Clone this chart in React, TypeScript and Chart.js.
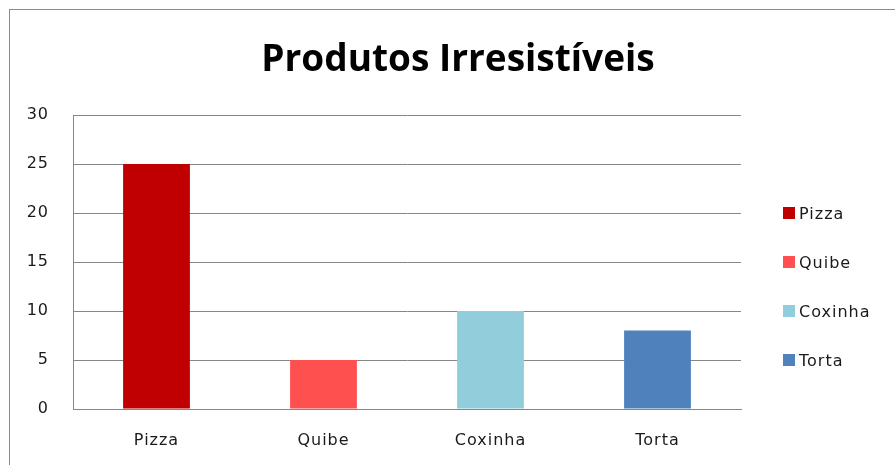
import React, { useEffect, useRef } from "react";
import { Chart, registerables } from "chart.js";

Chart.register(...registerables);

const categories = ["Pizza", "Quibe", "Coxinha", "Torta"];
const values = [25, 5, 10, 8];
const colors = ["#C00000", "#FF5050", "#92CDDC", "#4F81BD"];
const yTicks = [0, 5, 10, 15, 20, 25, 30];
const title = "Produtos Irresistíveis";

const spacingPlugin = {
  id: "letterSpacing",
  beforeDraw: (chart: any) => {
    try {
      chart.ctx.letterSpacing = "1px";
    } catch (e) {}
  },
};

export default function App() {
  const ref = useRef<HTMLCanvasElement | null>(null);

  useEffect(() => {
    if (!ref.current) return;
    const chart = new Chart(ref.current, {
      type: "bar",
      data: {
        labels: categories,
        datasets: [
          {
            data: values,
            backgroundColor: colors,
            borderWidth: 0,
            categoryPercentage: 1,
            barPercentage: 0.4,
          },
        ],
      },
      plugins: [spacingPlugin],
      options: {
        animation: false,
        responsive: false,
        maintainAspectRatio: false,
        layout: { padding: { left: 20, right: 154, top: 115, bottom: 0 } },
        plugins: {
          legend: { display: false },
          title: { display: false },
          tooltip: { enabled: false },
        },
        scales: {
          x: {
            grid: { display: false, drawTicks: false },
            border: { display: true, color: "#868686", width: 1 },
            ticks: {
              padding: 22,
              color: "#1a1a1a",
              font: { family: "DejaVu Sans", size: 16 },
            },
            afterFit: (s: any) => {
              s.height = 56;
            },
          },
          y: {
            min: 0,
            max: 30,
            afterBuildTicks: (s: any) => {
              s.ticks = yTicks.map((v) => ({ value: v }));
            },
            grid: { color: "#868686", drawTicks: false, lineWidth: 1 },
            border: { display: true, color: "#868686", width: 1 },
            ticks: {
              padding: 24,
              color: "#1a1a1a",
              font: { family: "DejaVu Sans", size: 16 },
            },
            afterFit: (s: any) => {
              s.width = 53;
            },
          },
        },
      },
    });
    return () => chart.destroy();
  }, []);

  return (
    <div style={{ position: "absolute", left: 0, top: 0, width: 895, height: 465, overflow: "hidden", background: "#fff" }}>
      <div
        style={{
          position: "absolute",
          left: 9,
          top: 9,
          width: 900,
          height: 470,
          border: "1px solid #8c8c8c",
          boxSizing: "border-box",
        }}
      />
      <canvas ref={ref} width={895} height={465} style={{ position: "absolute", left: 0, top: 0 }} />
      <div
        style={{
          position: "absolute",
          left: 0,
          width: 916,
          top: 32,
          textAlign: "center",
          fontFamily: "'Open Sans', sans-serif",
          fontWeight: "bold",
          fontSize: 37,
          lineHeight: "50px",
          color: "#000",
        }}
      >
        {title}
      </div>
      {categories.map((c, i) => (
        <div
          key={c}
          style={{
            position: "absolute",
            left: 783,
            top: 203 + i * 49,
            height: 20,
            display: "flex",
            alignItems: "center",
            fontFamily: "'DejaVu Sans', sans-serif",
            fontSize: 16,
            letterSpacing: 1,
            color: "#1a1a1a",
            whiteSpace: "nowrap",
          }}
        >
          <span style={{ display: "inline-block", width: 12, height: 12, background: colors[i], marginRight: 4 }} />
          {c}
        </div>
      ))}
    </div>
  );
}
